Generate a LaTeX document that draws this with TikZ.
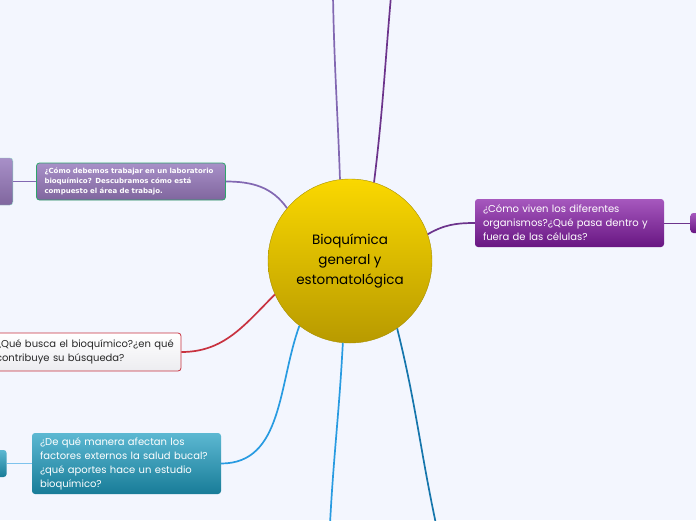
\documentclass[tikz,border=0pt]{standalone}
\usepackage{fontspec}
\setmainfont{Poppins}
\newfontfamily\labfont{DejaVu Sans}
\usetikzlibrary{positioning}
\definecolor{bg}{RGB}{243,246,254}
\definecolor{lilac}{RGB}{130,104,178}
\definecolor{plum}{RGB}{108,52,140}
\definecolor{ruby}{RGB}{200,50,64}
\definecolor{sky}{RGB}{40,155,225}
\definecolor{sea}{RGB}{22,118,172}
\tikzset{box/.style={rounded corners=3pt,align=left,inner xsep=8pt,inner ysep=0pt,text width=173pt,font=\fontsize{10}{14}\selectfont},labbox/.style={box,draw={rgb,255:red,46;green,163;blue,107},line width=0.8pt,top color={rgb,255:red,168;green,144;blue,200},bottom color={rgb,255:red,128;green,102;blue,158},text=white,font=\labfont\bfseries\fontsize{7}{10}\selectfont},lifebox/.style={box,top color={rgb,255:red,166;green,88;blue,190},bottom color={rgb,255:red,104;green,22;blue,130},text=white},redbox/.style={box,draw=ruby,line width=0.8pt,top color=white,bottom color={rgb,255:red,236;green,236;blue,240},text={rgb,255:red,40;green,40;blue,40}},tealbox/.style={box,top color={rgb,255:red,92;green,184;blue,210},bottom color={rgb,255:red,24;green,124;blue,152},text=white},stub/.style={rounded corners=3pt,inner sep=0pt},link/.style={line width=1.7pt}}

\begin{document}
\begin{tikzpicture}[x=1pt,y=-1pt]
\useasboundingbox (0,0) rectangle (696,520);
\fill[bg] (0,0) rectangle (696,520);
\clip (0,0) rectangle (696,520);
\coordinate (t1) at (333,-4); \coordinate (t2) at (391,-4); \coordinate (d1) at (330,524); \coordinate (d2) at (436,524);
\node[labbox,minimum height=37pt] (q1) at (131,181.5) {¿Cómo debemos trabajar en un laboratorio\\bioquímico? Descubramos cómo está\\compuesto el área de trabajo.};
\node[lifebox,minimum height=48pt] (q2) at (569.5,223) {¿Cómo viven los diferentes\\organismos?¿Qué pasa dentro y\\fuera de las células?};
\node[redbox,minimum height=38pt,inner xsep=5pt,text width=180pt] (q3) at (86,352) {¿Qué busca el bioquímico?¿en qué\\contribuye su búsqueda?};
\node[tealbox,minimum height=61pt] (q4) at (126.5,463.5) {¿De qué manera afectan los\\factores externos la salud bucal?\\¿qué aportes hace un estudio\\bioquímico?};
\node[stub,left=23pt of q1,minimum width=32pt,minimum height=47pt,draw={rgb,255:red,130;green,200;blue,190},top color={rgb,255:red,168;green,144;blue,200},bottom color={rgb,255:red,128;green,102;blue,158}] (s1) {};
\node[stub,right=26pt of q2,minimum width=40pt,minimum height=20pt,top color={rgb,255:red,166;green,88;blue,190},bottom color={rgb,255:red,104;green,22;blue,130}] (s2) {};
\node[stub,left=25pt of q4,minimum width=28pt,minimum height=27pt,top color={rgb,255:red,92;green,184;blue,210},bottom color={rgb,255:red,24;green,124;blue,152}] (s4) {};
\node[circle,minimum size=164pt,draw={rgb,255:red,168;green,144;blue,0},top color={rgb,255:red,250;green,216;blue,0},bottom color={rgb,255:red,184;green,154;blue,0},align=center,font=\fontsize{13.5}{20}\selectfont] (hub) at (350,261) {Bioquímica\\general y\\estomatológica};
% ramas
\draw[link,lilac] (hub.97) to[out=92,in=-89] (t1); \draw[link,plum] (hub.73) to[out=83,in=-95] (t2);
\draw[link,lilac] (hub.140) to[out=125,in=0] (q1.east); \draw[link,lilac,line width=1pt] (q1.west) -- (s1);
\draw[link,plum] (hub.19) to[out=30,in=180] (q2.west); \draw[link,plum,line width=1pt] (q2.east) -- (s2);
\draw[link,ruby] (hub.204) to[out=225,in=0] (q3.east);
\draw[link,sky] (hub.232) to[out=250,in=0] (q4.east); \draw[link,sky!60,line width=1pt] (q4.west) -- (s4);
\draw[link,sky] (hub.265) to[out=-93,in=87] (d1); \draw[link,sea] (hub.305) to[out=-76,in=102] (d2);
\end{tikzpicture}
\end{document}
